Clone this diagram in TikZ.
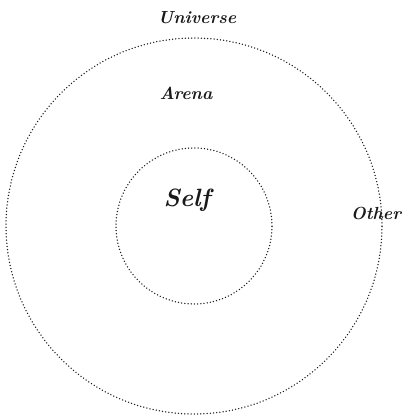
\documentclass[tikz,border=0pt]{standalone}
\usepackage{xcolor}
\definecolor{cInk}{HTML}{1A1A1A}
\usepackage{tikz}
\usetikzlibrary{positioning}
\tikzset{
  ring-dotted/.style={draw=cInk,circle,line width=1.5pt,line cap=round,
    dash pattern=on 0pt off 3.2pt,inner sep=0pt},
  label-hand/.style={font=\bfseries\itshape\fontsize{17.5}{20}\selectfont,
    text=cInk,inner sep=0pt},
  label-big/.style={label-hand,font=\bfseries\itshape\fontsize{25}{27}\selectfont},
}

\begin{document}
\begin{tikzpicture}[x=1pt,y=-1pt]
  \useasboundingbox (0,0) rectangle (403,418);
  % the two rings, same centre
  \node[ring-dotted,minimum size=376pt] (universe) at (194,226) {};
  \node[ring-dotted,minimum size=156pt] (self) at (194,226) {};
  % labels
  \node[label-hand] (universe-lbl) at (197,18) {Universe};
  \node[label-hand] (arena-lbl) at (186,93) {Arena};
  \node[label-big] (self-lbl) at (187,200) {Self};
  \node[label-hand] (other-lbl) at (376,213) {Other};
\end{tikzpicture}
\end{document}
